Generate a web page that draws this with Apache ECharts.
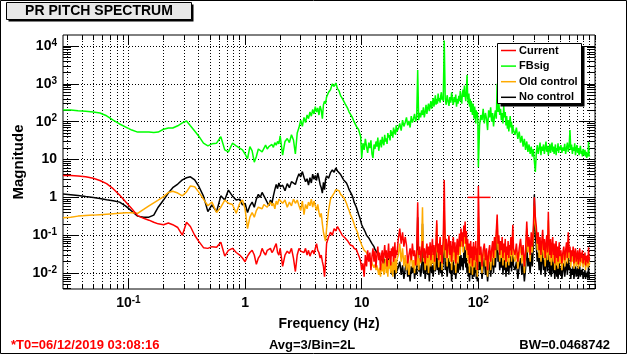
<!DOCTYPE html>
<html>
<head>
<meta charset="utf-8">
<title>PR PITCH SPECTRUM</title>
<script src="https://cdn.jsdelivr.net/npm/echarts@6/dist/echarts.min.js"></script>
<style>
  html, body { margin: 0; padding: 0; background: #fff; }
  #chart { width: 627px; height: 355px; }
</style>
</head>
<body>
<div id="chart"></div>
<script>
// frequency grid (Hz), shared by the four traces
const freqs = [
  0.0275, 0.032, 0.037, 0.043, 0.05, 0.057, 0.065, 0.074, 0.084, 0.095, 0.107, 0.12, 0.135, 0.15, 0.165, 0.18, 0.2, 0.22,
  0.24, 0.265, 0.29, 0.315, 0.34, 0.37, 0.4, 0.44, 0.48, 0.52, 0.57, 0.62, 0.67, 0.72, 0.78, 0.84, 0.9, 0.95,
  1, 1.05, 1.1, 1.15, 1.2, 1.25, 1.3, 1.35, 1.4, 1.45, 1.5, 1.55, 1.6, 1.65, 1.7, 1.75, 1.8, 1.85, 1.9, 1.95, 2,
  2.1, 2.2, 2.3, 2.4, 2.5, 2.6, 2.7, 2.8, 2.9, 3, 3.1, 3.2, 3.3, 3.4, 3.5, 3.6, 3.7, 3.8, 3.9, 4,
  4.1, 4.2, 4.3, 4.4, 4.5, 4.6, 4.7, 4.8, 4.9, 5,
  5.2, 5.4, 5.6, 5.8, 6, 6.2, 6.4, 6.6, 6.8, 7, 7.2, 7.4, 7.6, 7.8, 8, 8.2, 8.4, 8.6, 8.8, 9, 9.2, 9.4, 9.6, 9.8, 10,
  10.25, 10.5, 10.75, 11, 11.25, 11.5, 11.75, 12, 12.25, 12.5, 12.75, 13, 13.25, 13.5, 13.75, 14, 14.25, 14.5, 14.75, 15,
  15.25, 15.5, 15.75, 16, 16.25, 16.5, 16.75, 17, 17.25, 17.5, 17.75, 18, 18.25, 18.5, 18.75, 19, 19.25, 19.5, 19.75, 20,
  20.6, 21.2, 21.8, 22.4, 23, 23.6, 24.2, 24.8, 25.4, 26, 26.6, 27.2, 27.8, 28.4, 29, 29.6, 30.2, 30.8, 31.4, 32,
  32.6, 33.2, 33.8, 34.4, 35, 35.6, 36.2, 36.8, 37.4, 38, 38.6, 39.2, 39.8, 40.4, 41, 41.6, 42.2, 42.8, 43.4, 44,
  44.6, 45.2, 45.8, 46.4, 47, 47.6, 48.2, 48.8, 49.4, 50,
  51, 52, 53, 54, 55, 56, 57, 58, 59, 60, 61, 62, 63, 64, 65, 66, 67, 68, 69, 70,
  71, 72, 73, 74, 75, 76, 77, 78, 79, 80, 81, 82, 83, 84, 85, 86, 87, 88, 89, 90,
  91, 92, 93, 94, 95, 96, 97, 98, 99, 100,
  102.5, 105, 107.5, 110, 112.5, 115, 117.5, 120, 122.5, 125, 127.5, 130, 132.5, 135, 137.5, 140, 142.5, 145, 147.5, 150,
  152.5, 155, 157.5, 160, 162.5, 165, 167.5, 170, 172.5, 175, 177.5, 180, 182.5, 185, 187.5, 190, 192.5, 195, 197.5, 200,
  206, 212, 218, 224, 230, 236, 242, 248, 254, 260, 266, 272, 278, 284, 290, 296, 302, 308, 314, 320,
  326, 332, 338, 344, 350, 356, 362, 368, 374, 380, 386, 392, 398, 404, 410, 416, 422, 428, 434, 440,
  446, 452, 458, 464, 470, 476, 482, 488, 494, 500,
  510, 520, 530, 540, 550, 560, 570, 580, 590, 600, 610, 620, 630, 640, 650, 660, 670, 680, 690, 700,
  710, 720, 730, 740, 750, 760, 770, 780, 790, 800, 810, 820, 830, 840, 850, 860, 870, 880, 890, 900
];

const current = [
  3.8, 3.8, 3.7, 3.5, 3.2, 2.8, 2.3, 1.7, 1.15, 0.75, 0.5, 0.33, 0.28, 0.25, 0.22, 0.2, 0.19, 0.21,
  0.19, 0.16, 0.1, 0.22, 0.17, 0.1, 0.07, 0.047, 0.045, 0.05, 0.048, 0.065, 0.028, 0.04, 0.045, 0.035, 0.03, 0.025,
  0.02, 0.028, 0.035, 0.04, 0.03, 0.017, 0.025, 0.03, 0.045, 0.035, 0.03, 0.04, 0.038, 0.045, 0.035, 0.04, 0.05, 0.06, 0.035, 0.03, 0.045,
  0.015, 0.03, 0.038, 0.033, 0.045, 0.025, 0.011, 0.03, 0.045, 0.038, 0.042, 0.035, 0.045, 0.03, 0.04, 0.028, 0.035, 0.04, 0.032, 0.045,
  0.06, 0.04, 0.035, 0.025, 0.03, 0.02, 0.015, 0.008, 0.02, 0.06,
  0.09, 0.12, 0.1, 0.15, 0.13, 0.17, 0.19, 0.12, 0.1, 0.11, 0.085, 0.08, 0.07, 0.065, 0.055, 0.05, 0.052, 0.045, 0.04, 0.042, 0.035, 0.038, 0.025, 0.02, 0.012,
  0.018, 0.008, 0.03, 0.015, 0.04, 0.02, 0.035, 0.012, 0.028, 0.045, 0.02, 0.038, 0.014, 0.03, 0.05, 0.022, 0.035, 0.012, 0.028, 0.04,
  0.018, 0.032, 0.055, 0.025, 0.04, 0.015, 0.03, 0.06, 0.024, 0.038, 0.016, 0.045, 0.028, 0.05, 0.02, 0.035, 0.065, 0.025, 0.04, 0.03,
  0.08, 0.15, 0.06, 0.12, 0.05, 0.09, 0.055, 0.018, 0.03, 0.045, 0.022, 0.06, 0.028, 0.04, 0.016, 0.035, 0.74, 0.03, 0.05, 0.02,
  0.04, 0.07, 0.025, 0.045, 0.018, 0.038, 0.06, 0.025, 0.05, 0.03, 0.065, 0.022, 0.045, 0.08, 0.03, 0.055, 0.02, 0.04, 0.07, 0.25,
  0.035, 0.06, 0.022, 0.05, 0.09, 0.03, 0.055, 0.018, 0.045, 0.07,
  2.9, 0.04, 0.08, 0.025, 0.06, 0.1, 0.03, 0.07, 0.02, 0.05, 0.09, 0.035, 0.065, 0.018, 0.045, 0.08, 0.03, 0.06, 0.11, 0.05,
  0.15, 0.07, 0.12, 0.05, 0.18, 0.09, 0.23, 0.06, 0.13, 0.04, 0.08, 0.03, 0.06, 0.018, 0.045, 0.07, 0.025, 0.05, 0.015, 0.04,
  0.065, 0.022, 0.05, 0.03, 0.07, 0.02, 0.045, 0.012, 0.035, 2.0,
  0.03, 0.05, 0.015, 0.04, 0.06, 0.022, 0.045, 0.012, 0.035, 0.055, 0.02, 0.04, 0.07, 0.025, 0.09, 0.04, 0.13, 0.35, 0.06, 0.1,
  0.03, 0.07, 0.04, 0.09, 0.025, 0.06, 0.035, 0.08, 0.02, 0.05, 0.03, 0.07, 0.025, 0.055, 0.04, 0.09, 0.03, 0.06, 0.19, 0.045,
  0.03, 0.06, 0.02, 0.045, 0.08, 0.03, 0.055, 0.015, 0.04, 0.23, 0.05, 0.09, 0.03, 0.12, 0.05, 0.15, 1.0, 0.3, 0.17, 0.06,
  0.12, 0.04, 0.09, 0.03, 0.07, 0.14, 0.04, 0.08, 0.025, 0.06, 0.1, 0.035, 0.42, 0.06, 0.03, 0.08, 0.025, 0.05, 0.09, 0.03,
  0.06, 0.018, 0.045, 0.07, 0.025, 0.05, 0.02, 0.04, 0.065, 0.028,
  0.04, 0.018, 0.035, 0.05, 0.022, 0.04, 0.065, 0.025, 0.12, 0.035, 0.05, 0.02, 0.04, 0.028, 0.05, 0.018, 0.035, 0.045, 0.02, 0.03,
  0.04, 0.017, 0.03, 0.045, 0.02, 0.035, 0.025, 0.04, 0.018, 0.03, 0.022, 0.035, 0.016, 0.028, 0.02, 0.03, 0.018, 0.048, 0.022, 0.025
];

const fbsig = [
  203, 203, 195, 190, 180, 170, 143, 110, 87, 72, 60, 53, 53, 53, 52, 53, 63, 68,
  68, 78, 93, 104, 78, 57, 42, 27, 23, 26, 27, 40, 18, 16, 27, 23, 20, 18,
  14, 10.5, 22, 17, 8.5, 12, 19, 21, 16, 18, 24, 19, 22, 20, 25, 21, 28, 24, 30, 26, 42,
  13, 30, 36, 28, 45, 33, 14, 50, 70, 110, 75, 130, 95, 150, 120, 180, 140, 210, 160, 250,
  180, 230, 150, 260, 200, 120, 280, 350, 300, 450,
  600, 700, 1000, 850, 1050, 750, 650, 480, 420, 380, 300, 270, 220, 180, 170, 140, 120, 100, 90, 75, 80, 62, 70, 40, 11,
  27, 18, 35, 22, 15, 28, 20, 32, 14, 11, 25, 19, 30, 22, 38, 17, 26, 33, 21, 40,
  28, 24, 45, 30, 36, 26, 50, 38, 44, 32, 60, 42, 55, 38, 70, 48, 62, 45, 80, 55,
  65, 90, 58, 110, 75, 95, 130, 80, 105, 70, 140, 95, 120, 160, 100, 130, 2300, 110, 170, 130,
  200, 150, 240, 130, 180, 280, 160, 230, 300, 190, 260, 350, 220, 300, 420, 250, 330, 500, 280, 400,
  300, 550, 350, 420, 320, 480, 600, 380, 450, 350,
  14000, 400, 280, 500, 350, 260, 450, 320, 600, 380, 280, 450, 330, 520, 250, 400, 300, 480, 350, 650,
  400, 300, 550, 700, 450, 900, 500, 350, 600, 1700, 450, 300, 550, 250, 400, 180, 350, 220, 150, 300,
  200, 120, 250, 160, 90, 200, 130, 180, 110, 6.3,
  80, 150, 110, 220, 90, 170, 120, 60, 200, 130, 240, 100, 170, 75, 140, 200, 120, 1000, 180, 300,
  150, 220, 110, 170, 90, 260, 130, 180, 80, 140, 65, 110, 55, 90, 140, 70, 100, 48, 80, 60,
  45, 70, 35, 55, 28, 42, 22, 35, 18, 30, 16, 25, 14, 22, 12, 19, 9, 4.7, 15, 24,
  14, 20, 28, 13, 22, 17, 25, 14, 20, 30, 16, 23, 13, 19, 26, 15, 21, 28, 16, 22,
  14, 19, 25, 13, 20, 17, 27, 15, 22, 18,
  24, 15, 21, 17, 26, 14, 20, 28, 16, 22, 60, 18, 25, 14, 21, 17, 27, 13, 19, 24,
  15, 20, 13, 18, 23, 14, 17, 12, 19, 15, 13, 18, 12, 16, 11, 15, 12, 29, 13, 12
];

const oldControl = [
  0.29, 0.3, 0.32, 0.33, 0.34, 0.35, 0.36, 0.37, 0.38, 0.39, 0.39, 0.38, 0.48, 0.6, 0.72, 0.85, 1.05, 1.35,
  1.45, 1.3, 1.1, 1.4, 2.0, 1.9, 1.4, 0.9, 0.6, 0.75, 0.4, 0.55, 0.85, 0.7, 0.65, 0.38, 0.7, 0.85,
  0.5, 0.15, 0.3, 0.4, 0.3, 0.45, 0.55, 0.6, 0.5, 0.65, 0.7, 0.55, 0.62, 0.75, 0.6, 0.7, 0.5, 0.8, 0.65, 0.9, 1.0,
  0.7, 0.85, 0.55, 0.75, 0.6, 0.9, 0.7, 0.85, 0.6, 0.45, 0.8, 0.35, 0.65, 0.5, 0.75, 0.6, 0.9, 0.55, 0.8, 0.6,
  0.45, 0.65, 0.4, 0.3, 0.38, 0.2, 0.12, 0.09, 0.07, 0.15,
  0.45, 0.9, 1.1, 1.3, 1.6, 1.8, 1.5, 1.2, 1.35, 1.0, 0.85, 0.7, 0.55, 0.45, 0.35, 0.3, 0.25, 0.2, 0.16, 0.14, 0.12, 0.09, 0.08, 0.065, 0.055,
  0.05, 0.04, 0.045, 0.035, 0.03, 0.032, 0.022, 0.025, 0.018, 0.02, 0.014, 0.017, 0.012, 0.016, 0.0145, 0.009, 0.014, 0.008, 0.018, 0.011,
  0.02, 0.009, 0.015, 0.024, 0.01, 0.018, 0.008, 0.022, 0.013, 0.028, 0.01, 0.02, 0.015, 0.008, 0.025, 0.012, 0.03, 0.016, 0.01, 0.022,
  0.03, 0.06, 0.02, 0.045, 0.015, 0.03, 0.012, 0.025, 0.009, 0.02, 0.035, 0.014, 0.022, 0.01, 0.03, 0.016, 0.04, 0.012, 0.025, 0.018,
  0.05, 0.55, 0.02, 0.03, 0.012, 0.028, 0.016, 0.035, 0.01, 0.024, 0.04, 0.015, 0.03, 0.018, 0.045, 0.02, 0.012, 0.03, 0.05, 0.2,
  0.025, 0.04, 0.014, 0.03, 0.05, 0.02, 0.035, 0.012, 0.028, 0.04,
  0.5, 0.025, 0.05, 0.015, 0.04, 0.07, 0.02, 0.045, 0.012, 0.035, 0.06, 0.02, 0.045, 0.01, 0.03, 0.05, 0.018, 0.04, 0.08, 0.03,
  0.1, 0.05, 0.09, 0.035, 0.12, 0.06, 0.15, 0.04, 0.09, 0.025, 0.05, 0.018, 0.04, 0.01, 0.03, 0.05, 0.015, 0.035, 0.009, 0.025,
  0.045, 0.014, 0.035, 0.02, 0.05, 0.012, 0.03, 0.008, 0.022, 0.3,
  0.02, 0.035, 0.01, 0.03, 0.045, 0.015, 0.03, 0.008, 0.025, 0.04, 0.012, 0.03, 0.05, 0.016, 0.06, 0.025, 0.09, 0.25, 0.04, 0.07,
  0.02, 0.05, 0.025, 0.06, 0.016, 0.045, 0.022, 0.06, 0.014, 0.035, 0.02, 0.05, 0.016, 0.04, 0.028, 0.07, 0.02, 0.045, 0.13, 0.03,
  0.02, 0.04, 0.013, 0.03, 0.055, 0.018, 0.04, 0.01, 0.028, 0.15, 0.035, 0.06, 0.02, 0.08, 0.035, 0.1, 0.6, 0.2, 0.12, 0.04,
  0.08, 0.025, 0.06, 0.02, 0.045, 0.09, 0.025, 0.05, 0.015, 0.04, 0.07, 0.022, 0.25, 0.04, 0.02, 0.055, 0.016, 0.035, 0.06, 0.02,
  0.04, 0.012, 0.03, 0.05, 0.016, 0.035, 0.013, 0.028, 0.045, 0.018,
  0.028, 0.012, 0.025, 0.035, 0.015, 0.03, 0.045, 0.018, 0.08, 0.025, 0.035, 0.014, 0.03, 0.02, 0.035, 0.013, 0.026, 0.032, 0.015, 0.024,
  0.03, 0.013, 0.023, 0.033, 0.015, 0.026, 0.019, 0.03, 0.014, 0.023, 0.017, 0.026, 0.012, 0.021, 0.015, 0.022, 0.014, 0.03, 0.016, 0.019
];

const noControl = [
  1.22, 1.18, 1.12, 1.05, 0.99, 0.93, 0.87, 0.82, 0.75, 0.59, 0.43, 0.32, 0.3, 0.3, 0.34, 0.55, 0.85, 1.3,
  1.8, 2.25, 2.9, 3.3, 3.5, 2.9, 2.0, 1.08, 0.42, 0.63, 0.42, 1.1, 0.85, 1.56, 1.08, 0.85, 0.9, 0.63,
  0.7, 0.4, 0.6, 0.75, 0.55, 0.9, 1.2, 1.0, 1.35, 1.25, 0.9, 0.8, 0.6, 0.85, 0.7, 1.1, 1.6, 2.2, 1.7, 2.4, 1.9,
  2.1, 1.5, 2.3, 1.8, 2.6, 2.9, 2.2, 3.2, 4.2, 3.5, 4.8, 3.4, 2.6, 3.1, 2.1, 3.3, 2.4, 4.1, 3.0, 3.8,
  2.8, 4.4, 3.2, 2.2, 1.8, 1.3, 2.5, 1.6, 3.0, 3.7,
  3.2, 4.5, 5.3, 4.6, 6.0, 5.0, 5.5, 4.0, 3.6, 2.9, 3.2, 2.4, 2.0, 1.6, 1.7, 1.2, 1.0, 0.75, 0.72, 0.55, 0.5, 0.36, 0.3, 0.24, 0.19,
  0.16, 0.14, 0.12, 0.1, 0.11, 0.085, 0.075, 0.08, 0.06, 0.055, 0.05, 0.042, 0.045, 0.035, 0.038, 0.03, 0.027, 0.03, 0.022, 0.025,
  0.018, 0.024, 0.02, 0.015, 0.022, 0.012, 0.018, 0.025, 0.014, 0.02, 0.011, 0.017, 0.009, 0.015, 0.02, 0.012, 0.007, 0.014, 0.018, 0.011,
  0.014, 0.02, 0.009, 0.016, 0.007, 0.013, 0.018, 0.008, 0.012, 0.006, 0.015, 0.01, 0.02, 0.007, 0.013, 0.009, 0.3, 0.011, 0.016, 0.008,
  0.012, 0.2, 0.01, 0.018, 0.007, 0.012, 0.02, 0.009, 0.015, 0.006, 0.013, 0.022, 0.01, 0.016, 0.008, 0.014, 0.025, 0.011, 0.018, 0.1,
  0.012, 0.02, 0.009, 0.015, 0.025, 0.01, 0.018, 0.008, 0.014, 0.02,
  0.3, 0.012, 0.02, 0.008, 0.015, 0.025, 0.01, 0.018, 0.006, 0.014, 0.022, 0.009, 0.016, 0.007, 0.012, 0.02, 0.01, 0.015, 0.028, 0.012,
  0.03, 0.015, 0.025, 0.012, 0.035, 0.018, 0.05, 0.014, 0.025, 0.01, 0.018, 0.008, 0.015, 0.006, 0.012, 0.02, 0.009, 0.014, 0.007, 0.012,
  0.018, 0.008, 0.015, 0.01, 0.02, 0.007, 0.013, 0.006, 0.011, 0.1,
  0.012, 0.02, 0.007, 0.015, 0.025, 0.009, 0.016, 0.006, 0.013, 0.02, 0.008, 0.015, 0.025, 0.01, 0.03, 0.014, 0.04, 0.12, 0.02, 0.035,
  0.012, 0.025, 0.014, 0.03, 0.009, 0.022, 0.012, 0.028, 0.008, 0.018, 0.011, 0.025, 0.009, 0.02, 0.014, 0.03, 0.011, 0.02, 0.06, 0.016,
  0.012, 0.02, 0.007, 0.015, 0.025, 0.009, 0.018, 0.006, 0.013, 0.06, 0.015, 0.025, 0.01, 0.035, 0.015, 0.05, 1.2, 0.1, 0.05, 0.02,
  0.035, 0.012, 0.025, 0.009, 0.02, 0.04, 0.012, 0.022, 0.008, 0.018, 0.03, 0.011, 0.1, 0.018, 0.009, 0.022, 0.008, 0.015, 0.025, 0.01,
  0.018, 0.007, 0.014, 0.02, 0.008, 0.015, 0.007, 0.012, 0.02, 0.009,
  0.014, 0.007, 0.012, 0.018, 0.008, 0.013, 0.02, 0.009, 0.04, 0.012, 0.016, 0.007, 0.013, 0.009, 0.015, 0.007, 0.012, 0.015, 0.008, 0.011,
  0.014, 0.007, 0.011, 0.015, 0.008, 0.012, 0.009, 0.013, 0.007, 0.01, 0.008, 0.012, 0.007, 0.01, 0.008, 0.011, 0.007, 0.016, 0.008, 0.009
];

// the horizontal error bar sitting on the Current trace: [freq, magnitude, fromFreq, toFreq]
const currentBar = [[100, 1.0, 81, 127]];

const legendNames = ['Current', 'FBsig', 'Old control', 'No control'];
const legendColors = ['#ff0000', '#00ff00', '#ffaa00', '#000000'];

const xRange = [0.0275, 1000];
const yRange = [0.0038, 19500];
const xTicks = [0.1, 1, 10, 100];
const xTickText = [['10', '-1'], ['1', ''], ['10', ''], ['10', '2']];
const yTicks = [0.01, 0.1, 1, 10, 100, 1000, 10000];
const yTickText = [['10', '-2'], ['10', '-1'], ['1', ''], ['10', ''], ['10', '2'], ['10', '3'], ['10', '4']];
const decades = [0.001, 0.01, 0.1, 1, 10, 100, 1000, 10000];

// 1..9 inside every decade (x grid + minor ticks), 2..9 for the y minor ticks
const xMinor = [];
const yMinor = [];
decades.forEach(d => {
  for (let k = 1; k <= 9; k++) xMinor.push(+(k * d).toPrecision(3));
  for (let k = 2; k <= 9; k++) yMinor.push(+(k * d).toPrecision(3));
});

const FONT = '"Liberation Sans", Arial, sans-serif';

function supFormatter(ticks, texts) {
  return v => {
    const i = ticks.findIndex(t => Math.abs(Math.log10(t) - Math.log10(v)) < 1e-6);
    if (i < 0) return '';
    const [b, e] = texts[i];
    return e ? '{b|' + b + '}{s|' + e + '}' : '{b|' + b + '}';
  };
}

const labelRich = {
  b: { fontFamily: FONT, fontWeight: 'bold', fontSize: 14, color: '#000', lineHeight: 16 },
  s: { fontFamily: FONT, fontWeight: 'bold', fontSize: 10, color: '#000', lineHeight: 10, verticalAlign: 'top' }
};

const dotted = { color: '#000', width: 1, type: [1, 2] };

function xAxis(position, ticks, len, label, grid) {
  return {
    type: 'log', min: xRange[0], max: xRange[1], position: position,
    axisLine: { show: false },
    axisTick: { show: true, inside: true, length: len, customValues: ticks, lineStyle: { color: '#000', width: 1 } },
    axisLabel: label ? {
      show: true, customValues: ticks, margin: 6, formatter: supFormatter(xTicks, xTickText), rich: labelRich
    } : { show: false },
    splitLine: grid ? { show: true, lineStyle: dotted } : { show: false },
    minorTick: { show: false }
  };
}

function yAxis(position, ticks, len, label, grid) {
  return {
    type: 'log', min: yRange[0], max: yRange[1], position: position,
    axisLine: { show: false },
    axisTick: { show: true, inside: true, length: len, customValues: ticks, lineStyle: { color: '#000', width: 1 } },
    axisLabel: label ? {
      show: true, customValues: ticks, margin: 6, formatter: supFormatter(yTicks, yTickText), rich: labelRich
    } : { show: false },
    splitLine: grid ? { show: true, lineStyle: dotted } : { show: false },
    minorTick: { show: false }
  };
}

const pairs = vals => freqs.map((f, i) => [f, vals[i]]);

function trace(name, vals, color) {
  return {
    type: 'line', name: name, data: pairs(vals), xAxisIndex: 0, yAxisIndex: 0,
    symbol: 'none', silent: true, clip: true,
    lineStyle: { color: color, width: 1.5 }, itemStyle: { color: color }
  };
}

const legendGraphic = [
  { type: 'rect', shape: { x: 500.5, y: 46.5, width: 84, height: 60 }, style: { fill: '#000' }, z: 20 },
  { type: 'rect', shape: { x: 497.5, y: 43.5, width: 84, height: 60 }, style: { fill: '#fff', stroke: '#000', lineWidth: 1 }, z: 21 }
];
legendNames.forEach((name, i) => {
  const y = 50.5 + i * 15.6;
  legendGraphic.push({
    type: 'line', shape: { x1: 501, y1: y, x2: 516, y2: y },
    style: { stroke: legendColors[i], lineWidth: 1.5 }, z: 22
  });
  legendGraphic.push({
    type: 'text', x: 519, y: y,
    style: { text: name, font: 'bold 11px ' + FONT, fill: '#000', align: 'left', verticalAlign: 'middle' }, z: 22
  });
});

const chart = echarts.init(document.getElementById('chart'), null, { renderer: 'canvas' });

chart.setOption({
  animation: false,
  backgroundColor: '#fff',
  grid: { left: 63, right: 32, top: 35, bottom: 66, show: true, borderColor: '#000', borderWidth: 1, backgroundColor: 'transparent' },
  xAxis: [
    xAxis('bottom', xTicks, 10, true, false),
    xAxis('bottom', xMinor, 5, false, true),
    xAxis('top', xTicks, 10, false, false),
    xAxis('top', xMinor, 5, false, false)
  ],
  yAxis: [
    yAxis('left', yTicks, 15, true, true),
    yAxis('left', yMinor, 8, false, false),
    yAxis('right', yTicks, 15, false, false),
    yAxis('right', yMinor, 8, false, false)
  ],
  series: [
    trace('No control', noControl, legendColors[3]),
    trace('Old control', oldControl, legendColors[2]),
    trace('FBsig', fbsig, legendColors[1]),
    trace('Current', current, legendColors[0]),
    {
      type: 'custom', name: 'Current bar', data: currentBar, xAxisIndex: 0, yAxisIndex: 0, silent: true,
      encode: { x: 0, y: 1 },
      renderItem: (params, api) => {
        const a = api.coord([api.value(2), api.value(1)]);
        const b = api.coord([api.value(3), api.value(1)]);
        return { type: 'line', shape: { x1: a[0], y1: a[1], x2: b[0], y2: b[1] }, style: { stroke: '#ff0000', lineWidth: 1.5 } };
      }
    }
  ],
  graphic: [
    // outer canvas frame
    { type: 'rect', shape: { x: 0.5, y: 0.5, width: 626, height: 353 }, style: { fill: 'none', stroke: '#000', lineWidth: 1 }, z: 1 },
    // title box with its shadow
    { type: 'rect', shape: { x: 8.5, y: 4.5, width: 185, height: 17 }, style: { fill: '#000' }, z: 20 },
    { type: 'rect', shape: { x: 6.5, y: 2.5, width: 185, height: 17 }, style: { fill: '#e8e8e8', stroke: '#000', lineWidth: 1 }, z: 21 },
    { type: 'text', x: 99, y: 11.5, style: { text: 'PR PITCH SPECTRUM', font: 'bold 14px ' + FONT, fill: '#000', align: 'center', verticalAlign: 'middle' }, z: 22 },
    // axis titles
    { type: 'text', x: 19, y: 162, rotation: Math.PI / 2, style: { text: 'Magnitude', font: 'bold 15px ' + FONT, fill: '#000', align: 'center', verticalAlign: 'middle' }, z: 22 },
    { type: 'text', x: 329, y: 324, style: { text: 'Frequency (Hz)', font: 'bold 14px ' + FONT, fill: '#000', align: 'center', verticalAlign: 'middle' }, z: 22 },
    // footer
    { type: 'text', x: 11, y: 345, style: { text: '*T0=06/12/2019 03:08:16', font: 'bold 13px ' + FONT, fill: '#ff0000', align: 'left', verticalAlign: 'middle' }, z: 22 },
    { type: 'text', x: 312, y: 345, style: { text: 'Avg=3/Bin=2L', font: 'bold 13px ' + FONT, fill: '#000', align: 'center', verticalAlign: 'middle' }, z: 22 },
    { type: 'text', x: 610, y: 345, style: { text: 'BW=0.0468742', font: 'bold 13px ' + FONT, fill: '#000', align: 'right', verticalAlign: 'middle' }, z: 22 }
  ].concat(legendGraphic)
});
</script>
</body>
</html>
